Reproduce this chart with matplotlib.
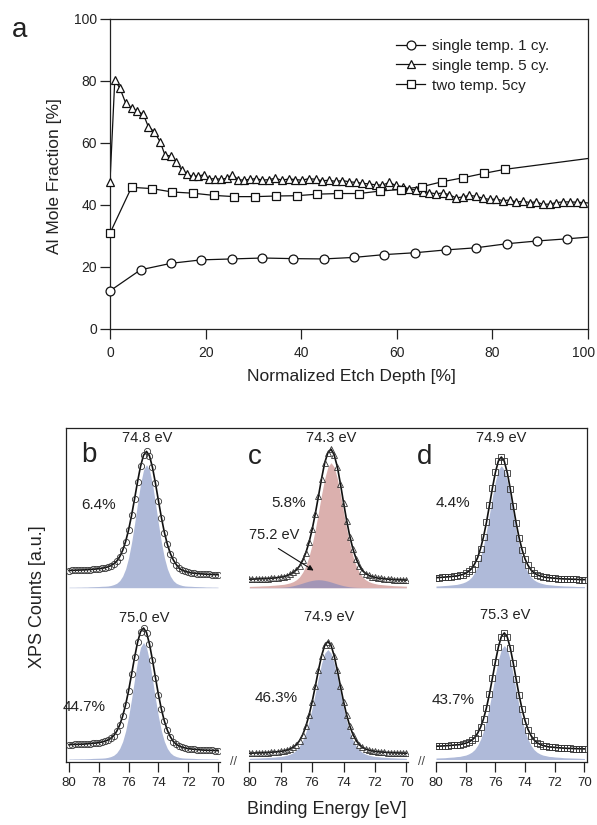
import numpy as np
import matplotlib
matplotlib.use("Agg")
import matplotlib.pyplot as plt
from matplotlib.lines import Line2D
from matplotlib.transforms import ScaledTranslation

plt.rcParams['font.family'] = ['Liberation Sans', 'DejaVu Sans']

# ── panel a: Al mole fraction vs normalized etch depth ──
depth_1cy = [0, 6.4, 12.8, 19.1, 25.5, 31.9, 38.3, 44.7, 51.1, 57.4, 63.8,
             70.2, 76.6, 83.0, 89.4, 95.7, 102.1]
mole_1cy = [12.3, 19.1, 21.2, 22.3, 22.6, 22.9, 22.7, 22.6, 23.1, 24.0, 24.6,
            25.5, 26.2, 27.5, 28.4, 29.1, 29.9]

depth_5cy = [0, 1.0, 2.1, 3.3, 4.5, 5.7, 7.0, 8.0, 9.2, 10.5,
             11.5, 12.7, 13.9, 15.0, 16.2, 17.3, 18.5, 19.6, 20.8, 22.0,
             23.2, 24.4, 25.6, 26.8, 28.0, 29.3, 30.6, 31.9, 33.2, 34.6,
             36.0, 37.4, 38.8, 40.2, 41.6, 43.0, 44.4, 45.8, 47.2, 48.6,
             50.0, 51.4, 52.8, 54.2, 55.6, 57.0, 58.4, 59.8, 61.2, 62.6,
             64.0, 65.4, 66.8, 68.2, 69.6, 71.0, 72.4, 73.8, 75.2, 76.6,
             78.0, 79.4, 80.8, 82.2, 83.6, 85.0, 86.4, 87.8, 89.2, 90.6,
             92.0, 93.4, 94.8, 96.2, 97.6, 99.0, 100.4]
mole_5cy = [47.5, 80.3, 77.6, 72.8, 71.2, 70.3, 69.2, 65.3, 63.7, 60.4,
            56.1, 55.8, 53.8, 51.3, 49.9, 49.2, 49.4, 49.7, 48.4, 48.5,
            48.3, 48.6, 49.8, 48.2, 48.0, 48.3, 48.5, 48.0, 48.2, 48.6,
            48.0, 48.4, 48.2, 48.0, 48.5, 48.3, 47.8, 48.0, 47.6, 47.9,
            47.5, 47.3, 47.0, 46.8, 46.5, 46.4, 47.3, 46.3, 45.9, 45.2,
            44.8, 44.3, 44.0, 43.6, 43.9, 43.3, 42.3, 42.6, 43.1, 42.8,
            42.2, 41.8, 41.9, 41.4, 41.6, 41.0, 41.2, 40.8, 41.0, 40.2,
            40.3, 40.8, 41.0, 41.0, 40.9, 40.8, 40.6]

depth_2t = [0, 4.5, 8.7, 13.0, 17.4, 21.7, 26.0, 30.4, 34.7, 39.1, 43.4,
            47.8, 52.1, 56.5, 60.8, 65.2, 69.5, 73.9, 78.2, 82.6, 100]
mole_2t = [30.9, 45.7, 45.3, 44.2, 43.8, 43.1, 42.7, 42.7, 42.9, 43.0, 43.5,
           43.7, 43.7, 44.5, 45.0, 45.9, 47.5, 48.8, 50.2, 51.5, 55.0]

legend_labels = ["single temp. 1 cy.", "single temp. 5 cy.", "two temp. 5cy"]

# ── panels b-d: Al 2p XPS spectra (counts in a.u.) ──
binding_energy = np.round(np.arange(80.0, 69.9, -0.2), 1)

counts_b_top = [17.2, 17.3, 17.5, 17.6, 17.7, 17.8, 18.0, 18.2, 18.4, 18.7,
                19.0, 19.3, 20.0, 20.8, 22.0, 23.8, 26.5, 31.0, 37.3, 46.2,
                57.9, 72.4, 88.9, 106.0, 121.4, 132.4, 136.3, 131.9, 120.3, 104.5,
                87.0, 70.1, 55.2, 43.3, 34.2, 27.7, 23.1, 19.3, 17.5, 16.3,
                15.5, 14.8, 14.5, 14.2, 13.9, 13.7, 13.5, 13.3, 13.2, 13.1, 13.0]
fill_b_top = [0.5, 0.5, 0.5, 0.6, 0.6, 0.7, 0.7, 0.9, 1.0, 1.1,
              1.2, 1.4, 1.5, 1.7, 2.2, 3.1, 4.4, 7.0, 11.6, 18.9,
              30.0, 45.3, 64.0, 84.5, 103.8, 117.8, 123.0, 117.8, 103.8, 84.5,
              64.0, 45.3, 30.0, 18.9, 11.6, 7.0, 4.4, 3.1, 2.2, 1.7,
              1.5, 1.4, 1.2, 1.1, 1.0, 0.9, 0.7, 0.7, 0.6, 0.6, 0.5]
counts_b_bot = [14.8, 15.0, 15.1, 15.2, 15.3, 15.4, 15.7, 15.9, 16.2, 16.5,
                16.8, 17.5, 18.2, 19.4, 21.1, 23.8, 28.2, 34.4, 43.3, 54.8,
                69.0, 85.3, 102.1, 117.2, 127.8, 131.5, 127.0, 115.4, 99.5, 81.9,
                65.0, 50.2, 38.3, 29.2, 22.7, 18.0, 15.2, 13.4, 12.2, 11.5,
                10.8, 10.5, 10.2, 9.9, 9.7, 9.4, 9.3, 9.2, 9.1, 9.0, 8.8]
fill_b_bot = [0.5, 0.5, 0.6, 0.6, 0.7, 0.7, 0.8, 0.9, 1.1, 1.2,
              1.3, 1.4, 1.6, 2.1, 2.9, 4.2, 6.7, 11.0, 18.0, 28.5,
              43.1, 60.8, 80.4, 98.7, 112.1, 117.0, 112.1, 98.7, 80.4, 60.8,
              43.1, 28.5, 18.0, 11.0, 6.7, 4.2, 2.9, 2.1, 1.6, 1.4,
              1.3, 1.2, 1.1, 0.9, 0.8, 0.7, 0.7, 0.6, 0.6, 0.5, 0.5]

counts_c_top = [8.5, 8.6, 8.7, 8.9, 9.0, 9.1, 9.2, 9.5, 9.7, 10.1,
                10.6, 11.0, 12.1, 13.4, 15.3, 17.9, 21.7, 27.4, 35.1, 45.3,
                58.3, 74.0, 91.5, 109.2, 125.0, 135.0, 138.5, 132.8, 121.1, 103.8,
                85.0, 66.8, 51.1, 38.5, 28.9, 22.0, 17.1, 14.2, 12.3, 11.1,
                10.3, 9.5, 9.3, 8.9, 8.6, 8.4, 8.1, 8.0, 7.9, 7.8, 7.6]
fill_c_top = [1.3, 1.4, 1.5, 1.6, 1.8, 1.9, 2.0, 2.3, 2.5, 2.8,
              3.1, 3.4, 4.1, 4.9, 6.1, 8.0, 10.9, 15.5, 22.0, 31.3,
              43.4, 58.4, 75.5, 93.3, 109.3, 120.8, 125.0, 120.8, 109.3, 93.3,
              75.5, 58.4, 43.4, 31.3, 22.0, 15.5, 10.9, 8.0, 6.1, 4.9,
              4.1, 3.4, 3.1, 2.8, 2.5, 2.3, 2.0, 1.9, 1.8, 1.6, 1.5]
fill_c_shoulder = [0.2, 0.2, 0.2, 0.2, 0.2, 0.2, 0.2, 0.2, 0.2, 0.3,
                   0.4, 0.6, 0.9, 1.4, 2.0, 2.8, 3.7, 4.7, 5.7, 6.6,
                   7.3, 7.8, 8.0, 7.8, 7.3, 6.6, 5.7, 4.7, 3.7, 2.8,
                   2.0, 1.4, 0.9, 0.6, 0.4, 0.3, 0.2, 0.2, 0.2, 0.2,
                   0.2, 0.2, 0.2, 0.2, 0.2, 0.2, 0.2, 0.2, 0.2, 0.2, 0.2]
counts_c_bot = [6.2, 6.4, 6.5, 6.6, 6.7, 6.8, 7.0, 7.3, 7.5, 7.8,
                8.1, 8.7, 9.4, 10.5, 12.2, 14.8, 19.0, 24.9, 33.3, 44.2,
                57.8, 73.3, 89.3, 103.8, 114.2, 118.0, 114.2, 103.8, 89.3, 73.3,
                57.8, 44.2, 33.3, 24.9, 19.0, 14.8, 12.2, 10.5, 9.4, 8.7,
                8.1, 7.8, 7.5, 7.3, 7.0, 6.8, 6.7, 6.6, 6.5, 6.4, 6.2]
fill_c_bot = [1.2, 1.3, 1.4, 1.5, 1.7, 1.8, 2.0, 2.2, 2.4, 2.8,
              3.0, 3.6, 4.3, 5.4, 7.0, 9.6, 13.6, 19.4, 27.5, 38.2,
              51.4, 66.4, 82.1, 96.1, 106.3, 110.0, 106.3, 96.1, 82.1, 66.4,
              51.4, 38.2, 27.5, 19.4, 13.6, 9.6, 7.0, 5.4, 4.3, 3.6,
              3.0, 2.8, 2.4, 2.2, 2.0, 1.8, 1.7, 1.5, 1.4, 1.3, 1.2]

counts_d_top = [10.1, 10.2, 10.4, 10.6, 10.9, 11.1, 11.5, 11.7, 12.5, 13.2,
                14.4, 16.3, 19.1, 23.7, 29.9, 39.1, 50.9, 65.5, 82.3, 99.7,
                115.3, 126.6, 130.7, 126.4, 115.0, 99.2, 81.6, 64.6, 49.8, 37.9,
                28.6, 22.3, 17.7, 14.9, 13.0, 11.8, 11.1, 10.3, 10.1, 9.7,
                9.5, 9.2, 9.0, 8.8, 8.7, 8.6, 8.5, 8.4, 8.2, 8.1, 8.1]
fill_d_top = [1.7, 1.8, 2.0, 2.2, 2.4, 2.7, 3.0, 3.3, 4.0, 4.8,
              6.0, 7.8, 10.6, 15.1, 21.5, 30.5, 42.3, 57.0, 73.7, 91.0,
              106.6, 117.9, 122.0, 117.9, 106.6, 91.0, 73.7, 57.0, 42.3, 30.5,
              21.5, 15.1, 10.6, 7.8, 6.0, 4.8, 4.0, 3.3, 3.0, 2.7,
              2.4, 2.2, 2.0, 1.8, 1.7, 1.6, 1.5, 1.3, 1.2, 1.1, 1.1]
counts_d_bot = [13.3, 13.4, 13.5, 13.7, 13.9, 14.1, 14.4, 14.7, 14.9, 15.6,
                16.3, 17.5, 19.2, 21.9, 26.2, 32.1, 40.6, 51.8, 65.6, 81.4,
                97.7, 112.4, 122.9, 126.6, 122.5, 111.7, 96.6, 80.1, 64.1, 50.1,
                38.7, 30.0, 23.9, 19.6, 16.9, 15.2, 14.0, 13.3, 12.6, 12.4,
                12.1, 11.8, 11.6, 11.4, 11.2, 11.1, 11.0, 10.9, 10.8, 10.7, 10.6]
fill_d_bot = [1.5, 1.6, 1.7, 1.8, 2.1, 2.3, 2.5, 2.9, 3.1, 3.8,
              4.4, 5.6, 7.3, 9.9, 14.1, 20.1, 28.5, 39.6, 53.2, 68.9,
              85.0, 99.6, 110.1, 114.0, 110.1, 99.6, 85.0, 68.9, 53.2, 39.6,
              28.5, 20.1, 14.1, 9.9, 7.3, 5.6, 4.4, 3.8, 3.1, 2.9,
              2.5, 2.3, 2.1, 1.8, 1.7, 1.6, 1.5, 1.4, 1.3, 1.1, 1.0]

# ── style ──
W, H = 597, 825
TXT = "#222222"
BLUE = "#afbad9"
PINK = "#dbb0ae"
PURPLE = "#9d94b8"
MEC = "#333333"


def fx(x):
    return x / W


def fy(y):
    return 1 - y / H


fig = plt.figure(figsize=(W / 100, H / 100), dpi=100)

# ──────────────────────────────────────────────────────────────
# Panel a
# ──────────────────────────────────────────────────────────────
ax = fig.add_axes([fx(110), fy(329), 478 / W, 310 / H])
series = [
    (depth_1cy, mole_1cy, "o", 6.4),
    (depth_5cy, mole_5cy, "^", 6.2),
    (depth_2t, mole_2t, "s", 5.4),
]
handles = []
for (x, y, m, ms), lab in zip(series, legend_labels):
    x = np.asarray(x)
    y = np.asarray(y)
    ax.plot(x, y, "-", color="#111111", lw=0.9, zorder=2)
    inside = x < 100
    ax.plot(x[inside], y[inside], ls="none", marker=m, ms=ms, mfc="white",
            mec="#111111", mew=0.9, zorder=3, clip_on=False)
    handles.append(Line2D([], [], color="#111111", lw=0.9, marker=m, ms=ms,
                          mfc="white", mec="#111111", mew=0.9, label=lab))

ax.set_xlim(0, 100)
ax.set_ylim(0, 100)
ax.set_xticks([0, 20, 40, 60, 80, 100])
ax.set_yticks([0, 20, 40, 60, 80, 100])
ax.tick_params(direction="out", length=7, width=0.9, labelsize=10,
               colors=TXT, top=False, right=False)
ax.tick_params(axis="x", pad=5)
ax.tick_params(axis="y", pad=2.5)
for s in ax.spines.values():
    s.set_linewidth(0.9)
    s.set_color("#222222")
# last x label sits at the figure edge: nudge it in a little
last = ax.get_xticklabels()[-1]
last.set_transform(last.get_transform() + ScaledTranslation(-4 / 100, 0, fig.dpi_scale_trans))

leg = ax.legend(handles=handles, loc="upper left", frameon=False,
                bbox_to_anchor=((396 - 110) / 478, (329 - 39) / 310),
                borderpad=0, borderaxespad=0, handlelength=1.9,
                handletextpad=0.45, labelspacing=0.38, fontsize=11)
for t in leg.get_texts():
    t.set_color(TXT)

fig.text(fx(351), fy(376), "Normalized Etch Depth [%]", ha="center",
         va="center", fontsize=12.5, color=TXT)
fig.text(fx(55), fy(176), "Al Mole Fraction [%]", ha="center", va="center",
         rotation=90, fontsize=12.5, color=TXT)
fig.text(fx(20), fy(30), "a", ha="center", va="center", fontsize=20, color=TXT)

# ──────────────────────────────────────────────────────────────
# Panels b-d
# ──────────────────────────────────────────────────────────────
TOP, BOT = 428, 762
LOW_OFF, HIGH_OFF = 2.5, 174.3

frame = fig.add_axes([fx(66), fy(BOT), 521 / W, (BOT - TOP) / H])
frame.set_facecolor("none")
frame.set_xticks([])
frame.set_yticks([])
frame.spines["bottom"].set_visible(False)
for s in ("left", "top", "right"):
    frame.spines[s].set_linewidth(0.9)
    frame.spines[s].set_color("#222222")

panels = [
    # left px, right px, xlim, top spectrum, bottom spectrum, marker
    (66, 220, (80.2, 69.87), (counts_b_top, fill_b_top, BLUE),
     (counts_b_bot, fill_b_bot, BLUE), "o"),
    (249, 408, (80.02, 69.9), (counts_c_top, fill_c_top, PINK),
     (counts_c_bot, fill_c_bot, BLUE), "^"),
    (436, 587, (80.0, 69.83), (counts_d_top, fill_d_top, BLUE),
     (counts_d_bot, fill_d_bot, BLUE), "s"),
]

sub_axes = []
for left, right, xl, top_spec, bot_spec, m in panels:
    sax = fig.add_axes([fx(left), fy(BOT), (right - left) / W, (BOT - TOP) / H])
    sax.set_facecolor("none")
    for (cnt, fil, col), off in ((top_spec, HIGH_OFF), (bot_spec, LOW_OFF)):
        cnt = np.asarray(cnt)
        fil = np.asarray(fil)
        sax.fill_between(binding_energy, off, off + fil, color=col, lw=0,
                         zorder=1)
        sax.plot(binding_energy, off + cnt, color="#111111", lw=1.2, zorder=3)
        sax.plot(binding_energy, off + cnt, ls="none", marker=m, ms=4.5,
                 mfc="none", mec=MEC, mew=0.6, zorder=4)
    sax.set_xlim(*xl)
    sax.set_ylim(0, BOT - TOP)
    sax.set_yticks([])
    sax.set_xticks([80, 78, 76, 74, 72, 70])
    sax.tick_params(axis="x", direction="out", length=7, width=0.9,
                    labelsize=9.5, colors=TXT, pad=4)
    for s in ("left", "top", "right"):
        sax.spines[s].set_visible(False)
    sax.spines["bottom"].set_linewidth(0.9)
    sax.spines["bottom"].set_color("#222222")
    sub_axes.append(sax)

# shoulder component in c
sub_axes[1].fill_between(binding_energy, HIGH_OFF,
                         HIGH_OFF + np.asarray(fill_c_shoulder),
                         color=PURPLE, lw=0, alpha=0.9, zorder=2)

# axis breaks
for bx in (233, 421):
    fig.text(fx(bx), fy(762), "//", ha="center", va="center", fontsize=9,
             color="#444444")

labels_bottom = [
    (147, 438, "74.8 eV", 10.5), (89, 455, "b", 20), (99, 505, "6.4%", 11),
    (144, 618, "75.0 eV", 10.5), (84, 707, "44.7%", 11),
    (331, 438, "74.3 eV", 10.5), (255, 457, "c", 20), (289, 503, "5.8%", 11),
    (274, 535, "75.2 eV", 10.5), (329, 617, "74.9 eV", 10.5),
    (276, 698, "46.3%", 11),
    (501, 438, "74.9 eV", 10.5), (425, 457, "d", 20), (453, 503, "4.4%", 11),
    (505, 615, "75.3 eV", 10.5), (453, 700, "43.7%", 11),
]
for x, y, s, fs in labels_bottom:
    fig.text(fx(x), fy(y), s, ha="center", va="center", fontsize=fs, color=TXT)

fig.add_artist(matplotlib.patches.FancyArrowPatch(
    (fx(276), fy(547)), (fx(316), fy(572)), transform=fig.transFigure,
    arrowstyle="-|>", mutation_scale=8, color="#111111", lw=0.8))

fig.text(fx(38), fy(597), "XPS Counts [a.u.]", ha="center", va="center",
         rotation=90, fontsize=13, color=TXT)
fig.text(fx(327), fy(810), "Binding Energy [eV]", ha="center", va="center",
         fontsize=13, color=TXT)

fig.savefig("out.png", dpi=100)
